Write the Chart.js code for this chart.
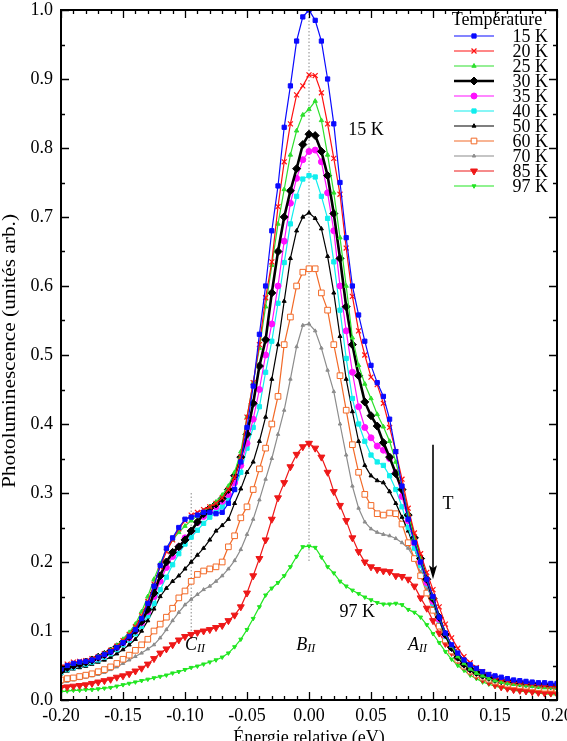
<!DOCTYPE html>
<html>
<head>
<meta charset="utf-8">
<script src="https://cdn.jsdelivr.net/npm/chart.js@4.4.1/dist/chart.umd.min.js"></script>
<style>
  html, body { margin: 0; padding: 0; background: #fff; }
</style>
</head>
<body>
<canvas id="pl" width="567" height="741"></canvas>
<script>
// énergie relative (eV)
const energies = [
  -0.200, -0.195, -0.190, -0.185, -0.180, -0.175, -0.170, -0.165, -0.160, -0.155,
  -0.150, -0.145, -0.140, -0.135, -0.130, -0.125, -0.120, -0.115, -0.110, -0.105,
  -0.100, -0.095, -0.090, -0.085, -0.080, -0.075, -0.070, -0.065, -0.060, -0.055,
  -0.050, -0.045, -0.040, -0.035, -0.030, -0.025, -0.020, -0.015, -0.010, -0.005,
   0.000,  0.005,  0.010,  0.015,  0.020,  0.025,  0.030,  0.035,  0.040,  0.045,
   0.050,  0.055,  0.060,  0.065,  0.070,  0.075,  0.080,  0.085,  0.090,  0.095,
   0.100,  0.105,  0.110,  0.115,  0.120,  0.125,  0.130,  0.135,  0.140,  0.145,
   0.150,  0.155,  0.160,  0.165,  0.170,  0.175,  0.180,  0.185,  0.190,  0.195,
   0.200
];

const pl15K = [
  0.045, 0.050, 0.053, 0.055, 0.056, 0.058, 0.062, 0.066, 0.070, 0.076,
  0.083, 0.092, 0.102, 0.118, 0.140, 0.165, 0.195, 0.220, 0.235, 0.250,
  0.262, 0.265, 0.268, 0.272, 0.272, 0.270, 0.272, 0.285, 0.305, 0.345,
  0.395, 0.455, 0.530, 0.600, 0.680, 0.745, 0.830, 0.890, 0.955, 0.990,
  1.000, 0.985, 0.955, 0.900, 0.835, 0.750, 0.670, 0.600, 0.558, 0.520,
  0.485, 0.460, 0.440, 0.407, 0.360, 0.310, 0.262, 0.228, 0.200, 0.175,
  0.150, 0.120, 0.097, 0.080, 0.068, 0.058, 0.051, 0.046, 0.041, 0.037,
  0.035, 0.033, 0.031, 0.029, 0.028, 0.027, 0.026, 0.025, 0.025, 0.024,
  0.024
];
const pl20K = [
  0.048, 0.052, 0.055, 0.056, 0.057, 0.060, 0.063, 0.067, 0.072, 0.078,
  0.086, 0.095, 0.106, 0.122, 0.143, 0.168, 0.193, 0.215, 0.232, 0.248,
  0.260, 0.268, 0.272, 0.276, 0.280, 0.285, 0.293, 0.305, 0.322, 0.352,
  0.410, 0.460, 0.515, 0.583, 0.635, 0.715, 0.780, 0.835, 0.877, 0.890,
  0.906, 0.905, 0.880, 0.835, 0.785, 0.733, 0.655, 0.585, 0.535, 0.500,
  0.468, 0.457, 0.430, 0.395, 0.360, 0.320, 0.278, 0.242, 0.212, 0.185,
  0.160, 0.135, 0.110, 0.090, 0.075, 0.063, 0.054, 0.047, 0.041, 0.037,
  0.033, 0.030, 0.028, 0.026, 0.025, 0.024, 0.023, 0.022, 0.021, 0.020,
  0.020
];
const pl25K = [
  0.045, 0.049, 0.052, 0.054, 0.056, 0.059, 0.063, 0.067, 0.072, 0.079,
  0.088, 0.098, 0.110, 0.128, 0.150, 0.175, 0.198, 0.218, 0.232, 0.243,
  0.252, 0.260, 0.267, 0.274, 0.280, 0.287, 0.297, 0.310, 0.330, 0.360,
  0.410, 0.460, 0.510, 0.570, 0.630, 0.690, 0.740, 0.790, 0.825, 0.848,
  0.856, 0.868, 0.840, 0.790, 0.735, 0.670, 0.600, 0.525, 0.485, 0.458,
  0.437, 0.414, 0.396, 0.375, 0.345, 0.310, 0.270, 0.235, 0.205, 0.175,
  0.148, 0.120, 0.096, 0.078, 0.063, 0.053, 0.045, 0.039, 0.035, 0.031,
  0.028, 0.026, 0.024, 0.023, 0.022, 0.021, 0.020, 0.019, 0.018, 0.018,
  0.017
];
const pl30K = [
  0.042, 0.047, 0.050, 0.052, 0.055, 0.058, 0.062, 0.066, 0.071, 0.077,
  0.084, 0.092, 0.101, 0.114, 0.131, 0.155, 0.180, 0.200, 0.214, 0.222,
  0.232, 0.245, 0.258, 0.270, 0.278, 0.284, 0.292, 0.305, 0.325, 0.352,
  0.385, 0.430, 0.484, 0.522, 0.590, 0.650, 0.700, 0.738, 0.770, 0.805,
  0.820, 0.818, 0.795, 0.760, 0.705, 0.640, 0.570, 0.515, 0.470, 0.432,
  0.412, 0.397, 0.373, 0.352, 0.328, 0.305, 0.268, 0.235, 0.205, 0.175,
  0.147, 0.120, 0.095, 0.076, 0.062, 0.052, 0.045, 0.040, 0.036, 0.033,
  0.030, 0.028, 0.027, 0.026, 0.025, 0.024, 0.023, 0.022, 0.022, 0.021,
  0.021
];
const pl35K = [
  0.043, 0.047, 0.050, 0.052, 0.055, 0.058, 0.061, 0.065, 0.070, 0.076,
  0.083, 0.090, 0.100, 0.112, 0.128, 0.150, 0.172, 0.192, 0.208, 0.222,
  0.235, 0.245, 0.257, 0.266, 0.274, 0.280, 0.288, 0.298, 0.315, 0.340,
  0.372, 0.407, 0.450, 0.500, 0.545, 0.600, 0.665, 0.720, 0.756, 0.783,
  0.795, 0.797, 0.780, 0.735, 0.680, 0.600, 0.535, 0.475, 0.425, 0.395,
  0.380, 0.368, 0.362, 0.350, 0.330, 0.295, 0.260, 0.228, 0.200, 0.170,
  0.143, 0.117, 0.094, 0.076, 0.062, 0.052, 0.045, 0.040, 0.036, 0.033,
  0.030, 0.028, 0.027, 0.026, 0.025, 0.024, 0.023, 0.022, 0.021, 0.021,
  0.020
];
const pl40K = [
  0.040, 0.044, 0.047, 0.050, 0.052, 0.055, 0.058, 0.062, 0.067, 0.073,
  0.080, 0.087, 0.096, 0.107, 0.122, 0.140, 0.160, 0.178, 0.196, 0.212,
  0.226, 0.236, 0.246, 0.256, 0.265, 0.272, 0.280, 0.290, 0.305, 0.330,
  0.365, 0.395, 0.425, 0.475, 0.520, 0.575, 0.634, 0.690, 0.730, 0.755,
  0.760, 0.758, 0.730, 0.698, 0.635, 0.565, 0.495, 0.437, 0.400, 0.375,
  0.355, 0.345, 0.340, 0.325, 0.305, 0.280, 0.250, 0.220, 0.195, 0.168,
  0.140, 0.115, 0.092, 0.075, 0.062, 0.052, 0.045, 0.040, 0.036, 0.033,
  0.030, 0.028, 0.026, 0.025, 0.024, 0.023, 0.022, 0.021, 0.021, 0.020,
  0.020
];
const pl50K = [
  0.038, 0.042, 0.045, 0.047, 0.049, 0.052, 0.055, 0.058, 0.062, 0.067,
  0.073, 0.080, 0.088, 0.100, 0.115, 0.132, 0.150, 0.162, 0.172, 0.180,
  0.190, 0.200, 0.210, 0.220, 0.232, 0.245, 0.253, 0.262, 0.285, 0.306,
  0.330, 0.345, 0.375, 0.410, 0.465, 0.515, 0.578, 0.640, 0.680, 0.700,
  0.706, 0.698, 0.683, 0.643, 0.590, 0.527, 0.465, 0.418, 0.375, 0.340,
  0.325, 0.318, 0.315, 0.302, 0.285, 0.265, 0.245, 0.220, 0.195, 0.168,
  0.140, 0.115, 0.093, 0.075, 0.062, 0.052, 0.045, 0.040, 0.036, 0.033,
  0.030, 0.028, 0.026, 0.025, 0.024, 0.023, 0.022, 0.021, 0.020, 0.020,
  0.019
];
const pl60K = [
  0.029, 0.031, 0.032, 0.034, 0.036, 0.038, 0.041, 0.044, 0.048, 0.053,
  0.059, 0.065, 0.072, 0.080, 0.088, 0.100, 0.110, 0.120, 0.133, 0.148,
  0.158, 0.172, 0.182, 0.187, 0.190, 0.193, 0.200, 0.222, 0.238, 0.264,
  0.280, 0.305, 0.335, 0.365, 0.400, 0.440, 0.515, 0.555, 0.600, 0.620,
  0.625, 0.625, 0.590, 0.565, 0.515, 0.470, 0.420, 0.370, 0.330, 0.298,
  0.282, 0.270, 0.268, 0.271, 0.270, 0.255, 0.228, 0.205, 0.180, 0.155,
  0.130, 0.107, 0.087, 0.071, 0.058, 0.049, 0.042, 0.037, 0.033, 0.030,
  0.027, 0.025, 0.023, 0.022, 0.021, 0.020, 0.019, 0.018, 0.017, 0.017,
  0.016
];
const pl70K = [
  0.025, 0.027, 0.029, 0.031, 0.033, 0.035, 0.037, 0.040, 0.044, 0.048,
  0.053, 0.058, 0.063, 0.068, 0.074, 0.080, 0.090, 0.102, 0.115, 0.127,
  0.138, 0.146, 0.153, 0.160, 0.165, 0.172, 0.180, 0.190, 0.202, 0.218,
  0.240, 0.262, 0.290, 0.320, 0.350, 0.385, 0.420, 0.465, 0.512, 0.543,
  0.545, 0.535, 0.510, 0.478, 0.447, 0.400, 0.355, 0.310, 0.278, 0.258,
  0.248, 0.243, 0.240, 0.238, 0.234, 0.228, 0.220, 0.205, 0.185, 0.160,
  0.135, 0.110, 0.088, 0.070, 0.056, 0.046, 0.039, 0.034, 0.030, 0.027,
  0.025, 0.023, 0.021, 0.020, 0.019, 0.018, 0.017, 0.016, 0.015, 0.015,
  0.014
];
const pl85K = [
  0.018, 0.019, 0.020, 0.021, 0.022, 0.024, 0.026, 0.028, 0.030, 0.033,
  0.035, 0.038, 0.042, 0.046, 0.052, 0.060, 0.068, 0.074, 0.080, 0.087,
  0.092, 0.095, 0.098, 0.100, 0.102, 0.105, 0.108, 0.115, 0.123, 0.135,
  0.155, 0.180, 0.205, 0.232, 0.262, 0.293, 0.315, 0.338, 0.356, 0.367,
  0.372, 0.365, 0.352, 0.330, 0.302, 0.282, 0.260, 0.235, 0.215, 0.200,
  0.193, 0.189, 0.187, 0.186, 0.180, 0.179, 0.175, 0.165, 0.148, 0.133,
  0.115, 0.097, 0.082, 0.069, 0.058, 0.049, 0.041, 0.035, 0.030, 0.026,
  0.022, 0.019, 0.017, 0.015, 0.014, 0.013, 0.012, 0.011, 0.010, 0.010,
  0.009
];
const pl97K = [
  0.012, 0.013, 0.014, 0.014, 0.015, 0.015, 0.016, 0.017, 0.018, 0.020,
  0.022, 0.024, 0.026, 0.028, 0.030, 0.032, 0.034, 0.036, 0.039, 0.041,
  0.044, 0.047, 0.049, 0.052, 0.055, 0.058, 0.062, 0.068, 0.077, 0.088,
  0.102, 0.118, 0.135, 0.152, 0.162, 0.170, 0.180, 0.193, 0.208, 0.222,
  0.223, 0.221, 0.207, 0.193, 0.184, 0.172, 0.165, 0.159, 0.154, 0.149,
  0.145, 0.141, 0.139, 0.139, 0.140, 0.138, 0.131, 0.127, 0.120, 0.109,
  0.096, 0.083, 0.070, 0.059, 0.050, 0.043, 0.036, 0.031, 0.026, 0.023,
  0.020, 0.018, 0.016, 0.014, 0.013, 0.012, 0.011, 0.010, 0.009, 0.008,
  0.007
];

const serif = '"Liberation Serif", "DejaVu Serif", serif';
Chart.defaults.font.family = serif;
Chart.defaults.font.size = 18;
Chart.defaults.color = '#000';

function series(label, values, color, style, extra) {
  return Object.assign({
    label: label,
    data: energies.map((e, i) => ({ x: e, y: values[i] })),
    borderColor: color,
    backgroundColor: color,
    borderWidth: 1.2,
    pointStyle: style,
    pointRadius: 3,
    pointBorderWidth: 1,
    pointBorderColor: color,
    pointBackgroundColor: color,
    tension: 0
  }, extra || {});
}

const datasets = [
  series('15 K', pl15K, '#0a0aff', 'rect', { pointRadius: 3 }),
  series('20 K', pl20K, '#ff1010', 'crossRot', { pointRadius: 3.5, pointBorderWidth: 1.2 }),
  series('25 K', pl25K, '#2ee02e', 'triangle', { pointRadius: 2.5 }),
  series('30 K', pl30K, '#000000', 'rectRot', { pointRadius: 4, borderWidth: 2.6 }),
  series('35 K', pl35K, '#ff10ff', 'circle', { pointRadius: 3 }),
  series('40 K', pl40K, '#10eeee', 'rect', { pointRadius: 3 }),
  series('50 K', pl50K, '#000000', 'triangle', { pointRadius: 2.3 }),
  series('60 K', pl60K, '#f26a28', 'rect', { pointRadius: 4, pointBackgroundColor: '#ffffff' }),
  series('70 K', pl70K, '#8c8c8c', 'triangle', { pointRadius: 2 }),
  series('85 K', pl85K, '#ee1818', 'triangle', { pointRadius: 4, pointRotation: 180 }),
  series('97 K', pl97K, '#22e622', 'triangle', { pointRadius: 2.3, pointRotation: 180 })
];

// cadre, graduations, annotations et légende
const decor = {
  id: 'decor',
  beforeDatasetsDraw(chart) {
    const { ctx, scales: { x, y } } = chart;
    ctx.save();
    ctx.strokeStyle = '#888';
    ctx.lineWidth = 1;
    ctx.setLineDash([1.5, 2]);
    ctx.beginPath();
    ctx.moveTo(x.getPixelForValue(0), y.getPixelForValue(1.0));
    ctx.lineTo(x.getPixelForValue(0), y.getPixelForValue(0.2));
    ctx.moveTo(x.getPixelForValue(-0.095), y.getPixelForValue(0.3));
    ctx.lineTo(x.getPixelForValue(-0.095), y.getPixelForValue(0.1));
    ctx.stroke();
    ctx.restore();
  },
  afterDatasetsDraw(chart) {
    const { ctx, chartArea: a, scales: { x, y } } = chart;
    ctx.save();
    ctx.strokeStyle = '#000';
    ctx.lineWidth = 1.3;
    ctx.beginPath();
    for (let k = -20; k <= 20; k++) {
      const px = Math.round(x.getPixelForValue(k / 100)) + 0.5;
      const len = k % 5 === 0 ? 8 : 4;
      ctx.moveTo(px, a.bottom); ctx.lineTo(px, a.bottom - len);
      ctx.moveTo(px, a.top); ctx.lineTo(px, a.top + len);
    }
    for (let k = 0; k <= 20; k++) {
      const py = Math.round(y.getPixelForValue(k / 20)) + 0.5;
      const len = k % 2 === 0 ? 8 : 4;
      ctx.moveTo(a.left, py); ctx.lineTo(a.left + len, py);
      ctx.moveTo(a.right, py); ctx.lineTo(a.right - len, py);
    }
    ctx.stroke();
    ctx.lineWidth = 2;
    ctx.strokeRect(a.left, a.top, a.right - a.left, a.bottom - a.top);

    // textes dans le graphe
    ctx.fillStyle = '#000';
    ctx.font = '18px ' + serif;
    ctx.textAlign = 'center';
    ctx.textBaseline = 'middle';
    ctx.fillText('15 K', x.getPixelForValue(0.046), y.getPixelForValue(0.825));
    ctx.fillText('97 K', x.getPixelForValue(0.039), y.getPixelForValue(0.127));
    ctx.fillText('T', x.getPixelForValue(0.112), y.getPixelForValue(0.283));

    // flèche T
    const ax = x.getPixelForValue(0.1);
    const ay0 = y.getPixelForValue(0.37), ay1 = y.getPixelForValue(0.175);
    ctx.lineWidth = 1.6;
    ctx.beginPath();
    ctx.moveTo(ax, ay0); ctx.lineTo(ax, ay1 - 10);
    ctx.stroke();
    ctx.beginPath();
    ctx.moveTo(ax, ay1); ctx.lineTo(ax - 4, ay1 - 14); ctx.lineTo(ax, ay1 - 11); ctx.lineTo(ax + 4, ay1 - 14);
    ctx.closePath();
    ctx.fill();

    // pics C, B, A
    const peaks = [['C', -0.092], ['B', -0.003], ['A', 0.087]];
    peaks.forEach(([p, v]) => {
      const px = x.getPixelForValue(v), py = y.getPixelForValue(0.08);
      ctx.font = 'italic 18px ' + serif;
      ctx.textAlign = 'right';
      ctx.fillText(p, px + 2, py);
      ctx.font = 'italic 12px ' + serif;
      ctx.textAlign = 'left';
      ctx.fillText('II', px + 2, py + 4);
    });

    // légende
    ctx.font = '18px ' + serif;
    ctx.textAlign = 'center';
    ctx.fillText('Température', 497, 20);
    chart.data.datasets.forEach((ds, i) => {
      const ry = 36 + i * 15;
      ctx.strokeStyle = ds.borderColor;
      ctx.lineWidth = ds.borderWidth;
      ctx.beginPath();
      ctx.moveTo(454, ry); ctx.lineTo(494, ry);
      ctx.stroke();
      ctx.fillStyle = ds.pointBackgroundColor;
      ctx.strokeStyle = ds.pointBorderColor;
      ctx.lineWidth = ds.pointBorderWidth;
      Chart.helpers.drawPoint(ctx, {
        pointStyle: ds.pointStyle,
        rotation: ds.pointRotation || 0,
        radius: ds.pointRadius,
        borderWidth: ds.pointBorderWidth
      }, 474, ry);
      ctx.fillStyle = '#000';
      ctx.textAlign = 'right';
      ctx.fillText(ds.label, 548, ry + 1);
    });

    // titre de l'axe vertical
    const yTitle = 'Photoluminescence (unités arb.)';
    ctx.save();
    ctx.translate(10, 351);
    ctx.rotate(-Math.PI / 2);
    ctx.textAlign = 'center';
    ctx.font = '18px ' + serif;
    const w = ctx.measureText(yTitle).width;
    ctx.scale(274 / w, 1);
    ctx.fillText(yTitle, 0, 0);
    ctx.restore();
    ctx.restore();
  }
};

new Chart(document.getElementById('pl'), {
  type: 'line',
  data: { datasets: datasets },
  options: {
    responsive: false,
    animation: false,
    layout: { padding: { top: 10, right: 10, left: 0, bottom: 0 } },
    plugins: { legend: { display: false }, tooltip: { enabled: false } },
    scales: {
      x: {
        type: 'linear', min: -0.2, max: 0.2,
        afterFit(s) { s.height = 41; s.paddingLeft = 0; s.paddingRight = 0; },
        ticks: { stepSize: 0.05, padding: 5, maxRotation: 0, autoSkip: false,
                 callback: v => v.toFixed(2) },
        grid: { display: false, drawTicks: false },
        border: { display: false },
        title: { display: true, text: 'Énergie relative (eV)', padding: { top: 0, bottom: -8 } }
      },
      y: {
        min: 0, max: 1,
        afterFit(s) { s.width = 61; s.paddingTop = 0; s.paddingBottom = 0; },
        ticks: { stepSize: 0.1, padding: 8, callback: v => v.toFixed(1) },
        grid: { display: false, drawTicks: false },
        border: { display: false }
      }
    }
  },
  plugins: [decor]
});
</script>
</body>
</html>
